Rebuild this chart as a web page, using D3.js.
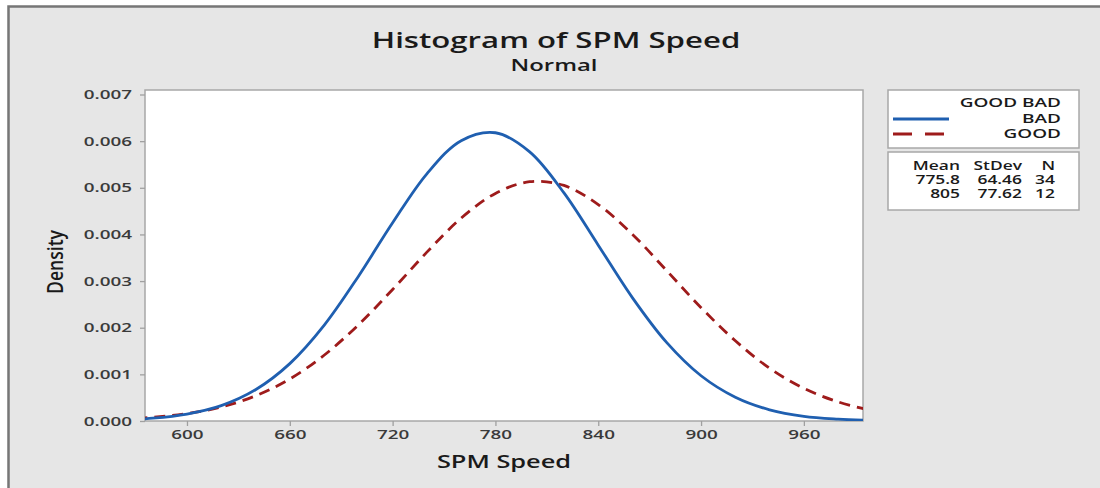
<!DOCTYPE html>
<html>
<head>
<meta charset="utf-8">
<script src="https://cdn.jsdelivr.net/npm/d3@7"></script>
<style>
  body { margin: 0; background: #fff; }
  text { font-family: "Open Sans", "Noto Sans", sans-serif; }
</style>
</head>
<body>
<svg id="chart" width="1100" height="488"></svg>
<script>
const speeds = [560, 580, 600, 620, 640, 660, 680, 700, 720, 740, 760, 780, 800, 820, 840, 860, 880, 900, 920, 940, 960, 980, 1000]
// fitted normal density, BAD group
const badDensity = [0.00002, 0.00006, 0.00015, 0.00033, 0.00067, 0.00123, 0.00205, 0.00310, 0.00425, 0.00530, 0.00601, 0.00618, 0.00577, 0.00489, 0.00377, 0.00264, 0.00168, 0.00097, 0.00051, 0.00024, 0.00010, 0.00004, 0.00001]
// fitted normal density, GOOD group
const goodDensity = [0.00003, 0.00008, 0.00016, 0.00030, 0.00054, 0.00090, 0.00141, 0.00206, 0.00282, 0.00362, 0.00435, 0.00488, 0.00513, 0.00505, 0.00464, 0.00400, 0.00322, 0.00243, 0.00172, 0.00113, 0.00070, 0.00041, 0.00022]

const xTicks = [600, 660, 720, 780, 840, 900, 960]
const yTicks = [0, 0.001, 0.002, 0.003, 0.004, 0.005, 0.006, 0.007]

const legendGroups = ["BAD", "GOOD"]
const statHeader = ["Mean", "StDev", "N"]
const statRows = [["775.8", "64.46", "34"], ["805", "77.62", "12"]]

// the source image is stretched sideways, so the text is too
const SX = 1.45

function stretch(sel, s) {
  s = s || SX
  sel.each(function() {
    var t = d3.select(this)
    var tx = +t.attr("x") || 0, ty = +t.attr("y") || 0
    t.attr("transform", "translate(" + tx + "," + ty + ") scale(" + s + ",1)")
     .attr("x", 0).attr("y", 0)
  })
}

var svg = d3.select("#chart")

// outer panel
svg.append("rect")
    .attr("x", 8.5).attr("y", 6.5)
    .attr("width", 1100).attr("height", 500)
    .attr("fill", "#e6e6e6")
    .attr("stroke", "#767676")
    .attr("stroke-width", 2.5)

var plot = { left: 145, right: 863, top: 90, bottom: 421 }

var x = d3.scaleLinear()
    .domain([575.5, 994.5])
    .range([plot.left, plot.right])

var y = d3.scaleLinear()
    .domain([0, 0.007])
    .range([plot.bottom, 94.5])

svg.append("rect")
    .attr("x", plot.left).attr("y", plot.top)
    .attr("width", plot.right - plot.left).attr("height", plot.bottom - plot.top)
    .attr("fill", "#fff")
    .attr("stroke", "#a8a8a8")
    .attr("stroke-width", 1.5)

svg.append("clipPath").attr("id", "plotClip")
  .append("rect")
    .attr("x", plot.left).attr("y", plot.top)
    .attr("width", plot.right - plot.left).attr("height", plot.bottom - plot.top)

// axes
var xAxis = svg.append("g")
    .attr("transform", "translate(0," + plot.bottom + ")")
    .call(d3.axisBottom(x).tickValues(xTicks).tickSize(5).tickPadding(4))
xAxis.select(".domain").remove()

var yAxis = svg.append("g")
    .attr("transform", "translate(" + plot.left + ",0)")
    .call(d3.axisLeft(y).tickValues(yTicks).tickSize(5).tickPadding(8).tickFormat(d3.format(".3f")))
yAxis.select(".domain").remove()

svg.selectAll(".tick line").attr("stroke", "#a0a0a0").attr("stroke-width", 1.3)
svg.selectAll(".tick text")
    .attr("fill", "#3a3a3a")
    .style("font-size", "13px")
    .style("font-weight", "600")
    .style("font-family", "'Open Sans', sans-serif")
    .call(stretch)

// curves
var line = d3.line()
    .x(function(d) { return x(d[0]) })
    .y(function(d) { return y(d[1]) })
    .curve(d3.curveCatmullRom)

var curves = svg.append("g").attr("clip-path", "url(#plotClip)")

curves.append("path")
    .datum(d3.zip(speeds, goodDensity))
    .attr("d", line)
    .attr("fill", "none")
    .attr("stroke", "#9e1b1b")
    .attr("stroke-width", 2.8)
    .attr("stroke-dasharray", "11,7")

curves.append("path")
    .datum(d3.zip(speeds, badDensity))
    .attr("d", line)
    .attr("fill", "none")
    .attr("stroke", "#1f5fb0")
    .attr("stroke-width", 2.8)

// titles
svg.append("text")
    .attr("x", 556).attr("y", 48)
    .attr("text-anchor", "middle")
    .attr("fill", "#1a1a1a")
    .style("font-size", "21.5px")
    .style("font-weight", "600")
    .text("Histogram of SPM Speed")
    .call(stretch)

svg.append("text")
    .attr("x", 554).attr("y", 71)
    .attr("text-anchor", "middle")
    .attr("fill", "#1a1a1a")
    .style("font-size", "16.5px")
    .style("font-weight", "600")
    .text("Normal")
    .call(stretch)

svg.append("text")
    .attr("x", 504).attr("y", 468)
    .attr("text-anchor", "middle")
    .attr("fill", "#1a1a1a")
    .style("font-size", "17.5px")
    .style("font-weight", "600")
    .text("SPM Speed")
    .call(stretch)

svg.append("text")
    .attr("transform", "translate(63,262) scale(" + SX + ",1) rotate(-90)")
    .attr("text-anchor", "middle")
    .attr("fill", "#1a1a1a")
    .style("font-size", "15px")
    .style("font-weight", "600")
    .attr("textLength", 64)
    .attr("lengthAdjust", "spacingAndGlyphs")
    .text("Density")

// legend box
var legend = svg.append("g")
legend.append("rect")
    .attr("x", 888).attr("y", 90).attr("width", 191).attr("height", 58)
    .attr("fill", "#fff").attr("stroke", "#a8a8a8").attr("stroke-width", 1.5)

legend.append("text")
    .attr("x", 1061).attr("y", 107)
    .attr("text-anchor", "end")
    .attr("fill", "#1a1a1a")
    .style("font-size", "12px").style("font-weight", "600")
    .text("GOOD BAD")
    .call(stretch, 1.58)

legendGroups.forEach(function(g, i) {
  var yy = 123 + i * 15
  legend.append("text")
      .attr("x", 1061).attr("y", yy)
      .attr("text-anchor", "end")
      .attr("fill", "#1a1a1a")
      .style("font-size", "12px").style("font-weight", "600")
      .text(g)
      .call(stretch, 1.58)
  legend.append("line")
      .attr("x1", 893).attr("x2", 949)
      .attr("y1", yy - 4).attr("y2", yy - 4)
      .attr("stroke", g === "BAD" ? "#1f5fb0" : "#9e1b1b")
      .attr("stroke-width", 2.8)
      .attr("stroke-dasharray", g === "BAD" ? null : "19,13")
})

// stats box
var stats = svg.append("g")
stats.append("rect")
    .attr("x", 888).attr("y", 152).attr("width", 191).attr("height", 58)
    .attr("fill", "#fff").attr("stroke", "#a8a8a8").attr("stroke-width", 1.5)

var colRight = [960, 1022, 1055]
statHeader.forEach(function(h, j) {
  stats.append("text")
      .attr("x", colRight[j]).attr("y", 170)
      .attr("text-anchor", "end")
      .attr("fill", "#1a1a1a")
      .style("font-size", "12px").style("font-weight", "600")
      .text(h)
      .call(stretch)
})
statRows.forEach(function(row, i) {
  row.forEach(function(v, j) {
    stats.append("text")
        .attr("x", colRight[j]).attr("y", 184 + i * 14)
        .attr("text-anchor", "end")
        .attr("fill", "#1a1a1a")
        .style("font-size", "12px").style("font-weight", "600")
        .text(v)
        .call(stretch)
  })
})
</script>
</body>
</html>
